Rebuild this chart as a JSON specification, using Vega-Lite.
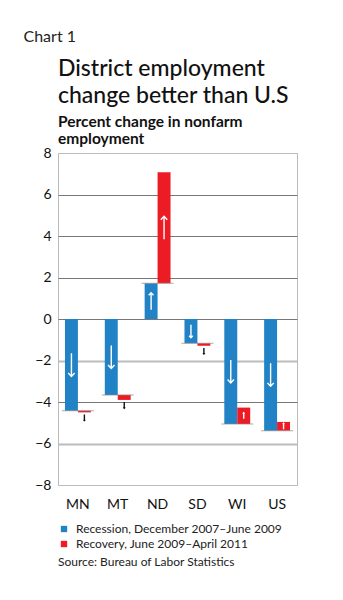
{
  "$schema": "https://vega.github.io/schema/vega-lite/v6.json",
  "autosize": "none",
  "width": 239,
  "height": 332,
  "padding": {"left": 58, "top": 153, "right": 46, "bottom": 115},
  "background": "white",
  "title": {
    "text": ["District employment", "change better than U.S"],
    "subtitle": ["Percent change in nonfarm", "employment"],
    "anchor": "start",
    "frame": "group",
    "font": "Lato",
    "fontSize": 23,
    "fontWeight": 500,
    "lineHeight": 27,
    "color": "#111",
    "subtitleFont": "Lato",
    "subtitleFontSize": 15.5,
    "subtitleFontWeight": "bold",
    "subtitleLineHeight": 17,
    "subtitleColor": "#111",
    "subtitlePadding": 7,
    "offset": 8,
    "dy": 127
  },
  "config": {
    "font": "Lato",
    "view": {"stroke": "#bbbbbb", "strokeWidth": 1}
  },
  "data": {
    "values": [
      {"state": "MN", "series": "Recession, December 2007–June 2009", "from": 0, "to": -4.42},
      {"state": "MN", "series": "Recovery, June 2009–April 2011", "from": -4.42, "to": -4.5},
      {"state": "MT", "series": "Recession, December 2007–June 2009", "from": 0, "to": -3.66},
      {"state": "MT", "series": "Recovery, June 2009–April 2011", "from": -3.66, "to": -3.9},
      {"state": "ND", "series": "Recession, December 2007–June 2009", "from": 0, "to": 1.72},
      {"state": "ND", "series": "Recovery, June 2009–April 2011", "from": 1.72, "to": 7.07},
      {"state": "SD", "series": "Recession, December 2007–June 2009", "from": 0, "to": -1.17},
      {"state": "SD", "series": "Recovery, June 2009–April 2011", "from": -1.17, "to": -1.29},
      {"state": "WI", "series": "Recession, December 2007–June 2009", "from": 0, "to": -5.06},
      {"state": "WI", "series": "Recovery, June 2009–April 2011", "from": -5.06, "to": -4.27},
      {"state": "US", "series": "Recession, December 2007–June 2009", "from": 0, "to": -5.38},
      {"state": "US", "series": "Recovery, June 2009–April 2011", "from": -5.38, "to": -4.96}
    ]
  },
  "encoding": {
    "x": {
      "field": "state",
      "type": "nominal",
      "sort": ["MN", "MT", "ND", "SD", "WI", "US"],
      "scale": {"paddingInner": 0.35, "paddingOuter": 0.175},
      "axis": {
        "title": null,
        "labelAngle": 0,
        "labelFontSize": 14,
        "labelColor": "#111",
        "labelPadding": 12,
        "ticks": false,
        "domain": false
      }
    }
  },
  "layer": [
    {
      "mark": {"type": "bar", "cornerRadius": 0},
      "encoding": {
        "xOffset": {"field": "series", "type": "nominal", "scale": {"paddingInner": 0, "paddingOuter": 0}},
        "y": {
          "field": "from",
          "type": "quantitative",
          "scale": {"domain": [-8, 8], "nice": false},
          "axis": {
            "values": [-8, -6, -4, -2, 0, 2, 4, 6, 8],
            "title": "Chart 1",
            "titleAngle": 0,
            "titleAlign": "left",
            "titleBaseline": "alphabetic",
            "titleX": -35,
            "titleY": -112,
            "titleFontSize": 16,
            "titleFontWeight": "normal",
            "titleColor": "#222",
            "labelFontSize": 14,
            "labelColor": "#111",
            "labelPadding": 7,
            "ticks": false,
            "domain": false,
            "grid": true,
            "gridColor": {"condition": {"test": "datum.value === -2 || datum.value === -6 || datum.value === 8 || datum.value === -8", "value": "#bbbbbb"}, "value": "#777777"},
            "gridWidth": {"condition": {"test": "datum.value === -2 || datum.value === -6", "value": 2}, "value": 1}
          }
        },
        "y2": {"field": "to"},
        "color": {
          "field": "series",
          "type": "nominal",
          "scale": {"range": ["#2183c6", "#ed1c24"]},
          "legend": {
            "orient": "none",
            "legendX": 0,
            "legendY": 370,
            "direction": "vertical",
            "padding": 0,
            "title": "Source: Bureau of Labor Statistics",
            "titleOrient": "bottom",
            "titleAnchor": "start",
            "titleFontSize": 12,
            "titleFontWeight": "normal",
            "titleColor": "#222",
            "titlePadding": 7,
            "titleLimit": 300,
            "labelFontSize": 12,
            "labelColor": "#222",
            "labelLimit": 300,
            "labelOffset": 6,
            "symbolType": "square",
            "symbolSize": 40,
            "symbolStrokeWidth": 0,
            "rowPadding": 3
          }
        }
      }
    },
    {
      "transform": [{"filter": "datum.series === 'Recession, December 2007–June 2009'"}],
      "mark": {"type": "tick", "orient": "horizontal", "size": 32, "thickness": 1, "color": "#888888"},
      "encoding": {
        "y": {"field": "to", "type": "quantitative"}
      }
    },
    {
      "transform": [
        {"calculate": "abs(datum.to - datum.from)", "as": "len"},
        {"calculate": "datum.len < 0.3 ? datum.to - 0.25 : (datum.from + datum.to) / 2", "as": "arrowPos"}
      ],
      "mark": {
        "type": "point",
        "filled": false,
        "shape": "M0,1L0,-1M-0.28,-0.7L0,-1L0.28,-0.7",
        "strokeWidth": 1.4,
        "opacity": 1
      },
      "encoding": {
        "xOffset": {"field": "series", "type": "nominal"},
        "y": {"field": "arrowPos", "type": "quantitative"},
        "angle": {"condition": {"test": "datum.to < datum.from", "value": 180}, "value": 0},
        "size": {
          "condition": [
            {"test": "datum.len >= 3", "value": 529},
            {"test": "datum.len >= 1.5", "value": 289},
            {"test": "datum.len >= 1", "value": 169}
          ],
          "value": 36
        },
        "stroke": {"condition": {"test": "datum.len < 0.3", "value": "#111111"}, "value": "#ffffff"}
      }
    }
  ]
}
